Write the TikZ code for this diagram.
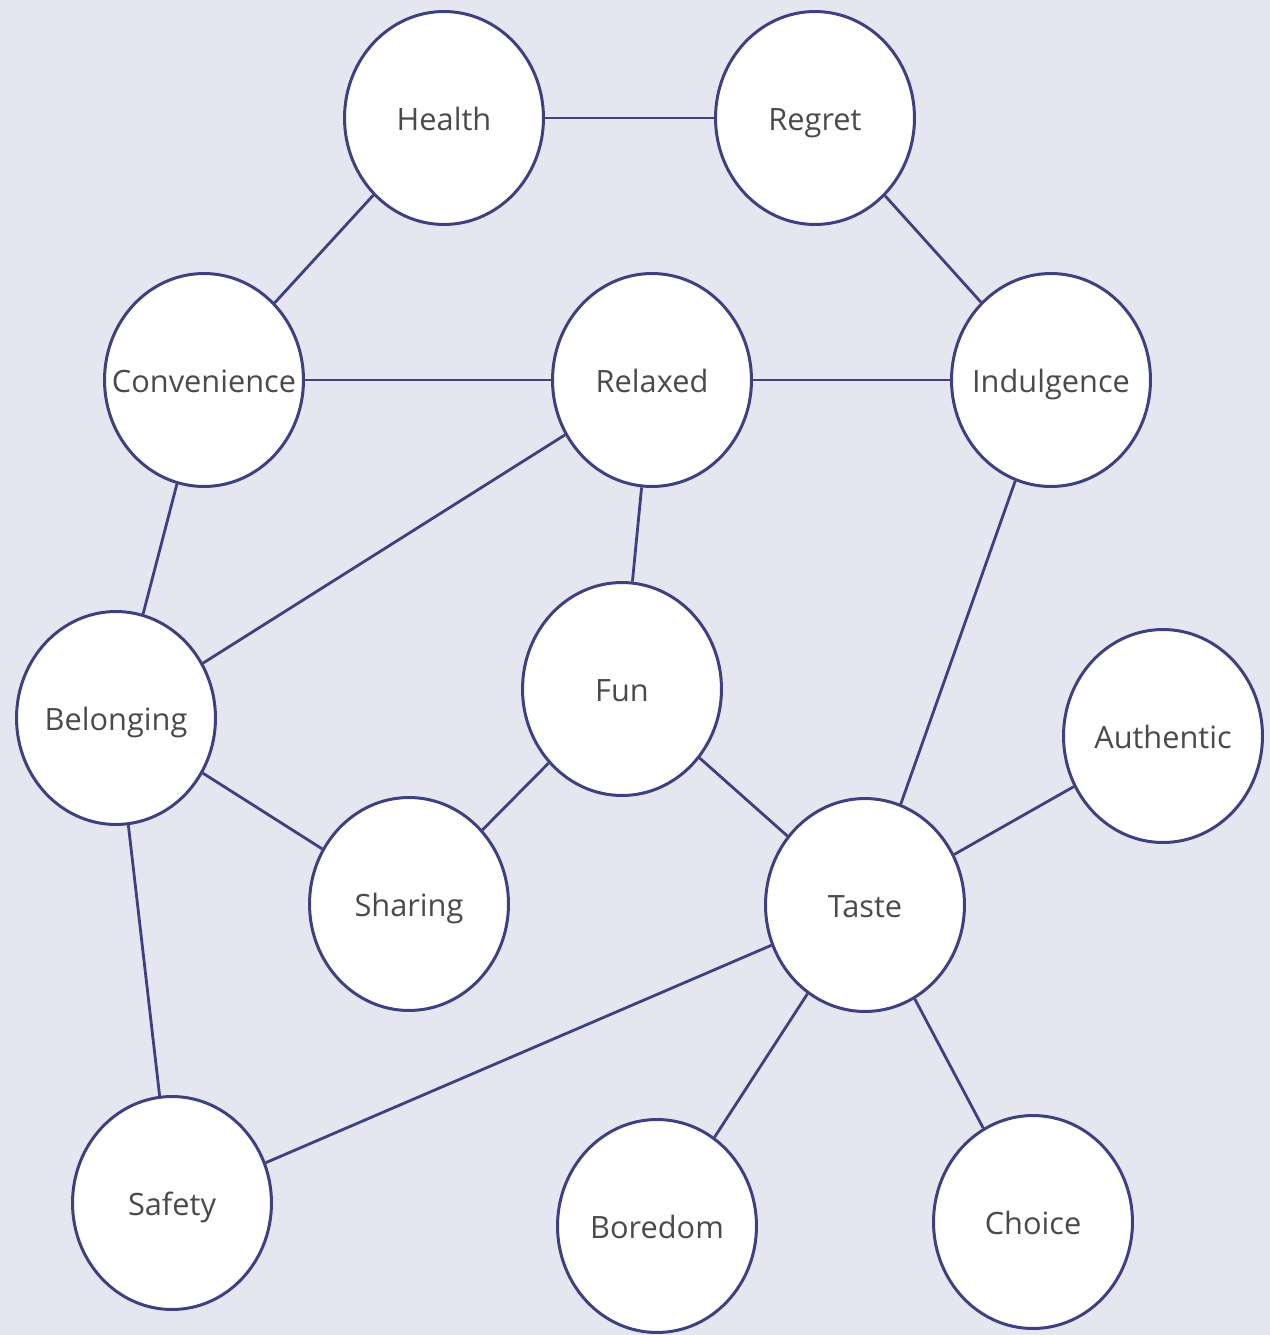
\documentclass[tikz,border=0pt]{standalone}
\usepackage{fontspec}
\setmainfont{Open Sans}
\usetikzlibrary{shapes.geometric}
\definecolor{bgc}{HTML}{E6E6F1}
\definecolor{edgec}{HTML}{3E4080}
\definecolor{txtc}{HTML}{4A4A4E}
\pgfdeclarelayer{bglayer}
\pgfdeclarelayer{edgelayer}
\pgfsetlayers{bglayer,edgelayer,main}
\newcommand{\ctxt}[1]{\makebox[0pt]{#1}}
\begin{document}
\begin{tikzpicture}[x=0.02cm,y=-0.02cm,
  concept/.style={ellipse,draw=edgec,line width=1.7pt,fill=white,minimum width=3.98cm,minimum height=4.26cm,inner sep=0pt,text height=14pt,text depth=0pt,text=txtc,font=\fontsize{17.5}{20}\selectfont},
  link/.style={draw=edgec,line width=1.6pt}]
\begin{pgfonlayer}{bglayer}
\fill[bgc] (0,0) rectangle (1270,1335);
\end{pgfonlayer}
\useasboundingbox (0,0) rectangle (1270,1335);
\node[concept] (health) at (444,118) {\ctxt{Health}};
\node[concept] (regret) at (815,118) {\ctxt{Regret}};
\node[concept] (conv) at (204,380) {\ctxt{Convenience}};
\node[concept] (relax) at (652,380) {\ctxt{Relaxed}};
\node[concept] (indul) at (1051,380) {\ctxt{Indulgence}};
\node[concept] (belong) at (116,718) {\ctxt{Belonging}};
\node[concept] (fun) at (622,689) {\ctxt{Fun}};
\node[concept] (auth) at (1163,736) {\ctxt{Authentic}};
\node[concept] (share) at (409,904) {\ctxt{Sharing}};
\node[concept] (taste) at (865,905) {\ctxt{Taste}};
\node[concept] (safety) at (172,1203) {\ctxt{Safety}};
\node[concept] (bored) at (657,1226) {\ctxt{Boredom}};
\node[concept] (choice) at (1033,1222) {\ctxt{Choice}};
\begin{pgfonlayer}{edgelayer}
\draw[link] (health) -- (regret);
\draw[link] (health) -- (conv);
\draw[link] (regret) -- (indul);
\draw[link] (conv) -- (relax);
\draw[link] (relax) -- (indul);
\draw[link] (conv) -- (belong);
\draw[link] (relax) -- (belong);
\draw[link] (relax) -- (fun);
\draw[link] (indul) -- (taste);
\draw[link] (belong) -- (share);
\draw[link] (belong) -- (safety);
\draw[link] (fun) -- (share);
\draw[link] (fun) -- (taste);
\draw[link] (auth) -- (taste);
\draw[link] (taste) -- (safety);
\draw[link] (taste) -- (bored);
\draw[link] (taste) -- (choice);
\end{pgfonlayer}
\end{tikzpicture}
\end{document}
